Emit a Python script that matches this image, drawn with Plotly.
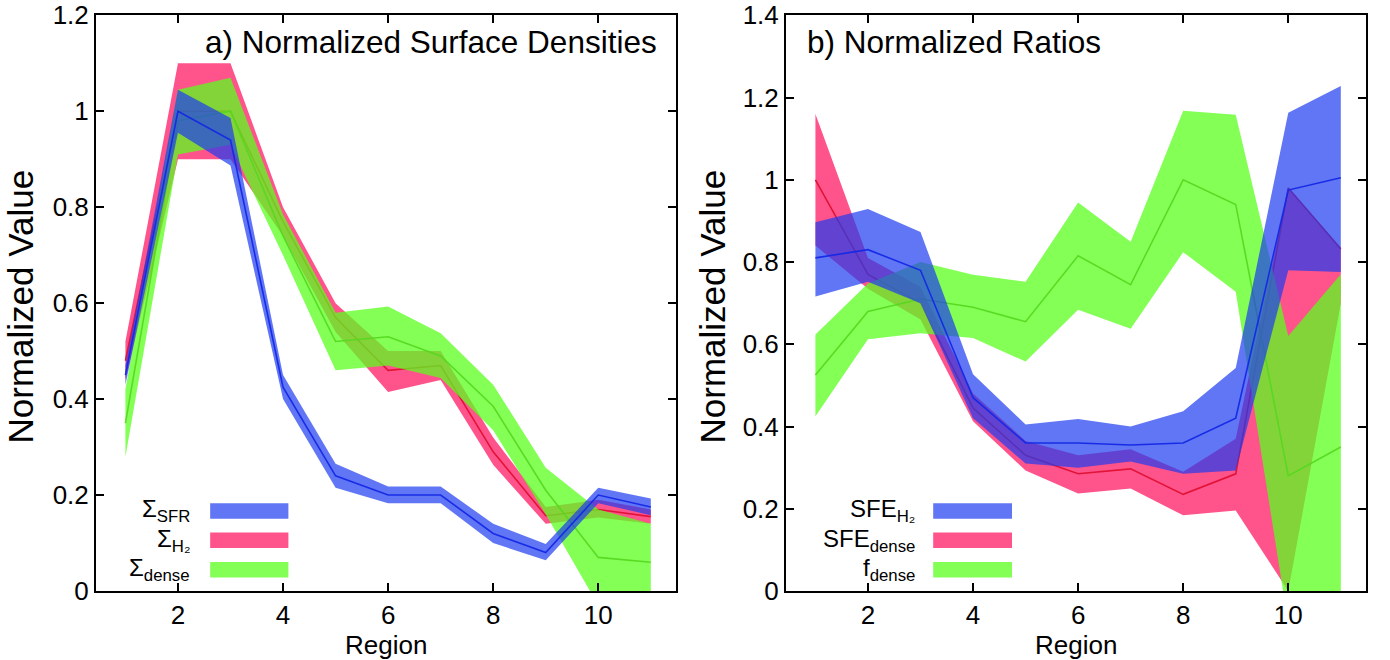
import plotly.graph_objects as go

# ---------------- data ----------------
regions = [1, 2, 3, 4, 5, 6, 7, 8, 9, 10, 11]

# panel a) normalized surface densities
sfr_c = [0.45, 1.00, 0.94, 0.425, 0.24, 0.20, 0.20, 0.12, 0.08, 0.20, 0.175]
sfr_lo = [0.43, 0.955, 0.887, 0.40, 0.215, 0.183, 0.183, 0.10, 0.064, 0.183, 0.158]
sfr_hi = [0.47, 1.045, 0.986, 0.45, 0.265, 0.218, 0.218, 0.14, 0.098, 0.215, 0.193]

h2_c = [0.48, 1.00, 1.00, 0.77, 0.57, 0.46, 0.47, 0.29, 0.157, 0.17, 0.155]
h2_lo = [0.44, 0.90, 0.90, 0.74, 0.54, 0.415, 0.44, 0.263, 0.14, 0.153, 0.14]
h2_hi = [0.52, 1.10, 1.10, 0.80, 0.60, 0.50, 0.50, 0.32, 0.175, 0.19, 0.17]

dense_c = [0.35, 0.98, 1.00, 0.74, 0.52, 0.53, 0.49, 0.385, 0.21, 0.07, 0.06]
dense_lo = [0.28, 0.91, 0.93, 0.70, 0.46, 0.47, 0.444, 0.335, 0.16, -0.03, -0.05]
dense_hi = [0.42, 1.045, 1.07, 0.785, 0.58, 0.593, 0.537, 0.43, 0.257, 0.17, 0.14]

# panel b) normalized ratios
sfeh2_c = [0.81, 0.83, 0.78, 0.47, 0.36, 0.36, 0.355, 0.36, 0.42, 0.975, 1.005]
sfeh2_lo = [0.716, 0.752, 0.70, 0.42, 0.31, 0.30, 0.315, 0.285, 0.293, 0.78, 0.776]
sfeh2_hi = [0.897, 0.929, 0.873, 0.527, 0.405, 0.418, 0.40, 0.437, 0.542, 1.163, 1.228]

sfed_c = [1.0, 0.77, 0.70, 0.445, 0.33, 0.285, 0.297, 0.235, 0.285, 0.98, 0.832]
sfed_lo = [0.84, 0.735, 0.66, 0.413, 0.293, 0.237, 0.249, 0.184, 0.196, 0.0, 0.70]
sfed_hi = [1.16, 0.81, 0.74, 0.48, 0.365, 0.33, 0.345, 0.29, 0.37, 0.98, 0.832]

fd_c = [0.525, 0.68, 0.71, 0.69, 0.655, 0.815, 0.745, 1.0, 0.94, 0.28, 0.35]
fd_lo = [0.425, 0.612, 0.627, 0.615, 0.558, 0.684, 0.638, 0.824, 0.728, -0.08, -0.08]
fd_hi = [0.624, 0.748, 0.80, 0.769, 0.752, 0.945, 0.849, 1.168, 1.158, 0.62, 0.77]

xticks = [2, 4, 6, 8, 10]
yticks_a = [0, 0.2, 0.4, 0.6, 0.8, 1.0, 1.2]
ylabels_a = ["0", "0.2", "0.4", "0.6", "0.8", "1", "1.2"]
yticks_b = [0, 0.2, 0.4, 0.6, 0.8, 1.0, 1.2, 1.4]
ylabels_b = ["0", "0.2", "0.4", "0.6", "0.8", "1", "1.2", "1.4"]

legend_a = ["Σ<sub>SFR</sub>", "Σ<sub>H₂</sub>", "Σ<sub>dense</sub>"]
legend_b = ["SFE<sub>H₂</sub>", "SFE<sub>dense</sub>", "f<sub>dense</sub>"]

# ---------------- style ----------------
BLUE_F = "rgba(30,60,240,0.70)"
BLUE_L = "rgba(20,40,230,0.95)"
PINK_F = "rgba(255,40,110,0.80)"
PINK_L = "rgba(225,20,55,1)"
GREEN_F = "rgba(90,255,30,0.75)"
GREEN_L = "rgba(85,215,30,0.9)"
FONT = "Liberation Sans, Arial, Helvetica, sans-serif"

W, H = 1390, 660
L_A, R_A = 96, 675.5
L_B, R_B = 786, 1365.5
TOP, BOT = 12, 591
PH = BOT - TOP


def py2paper(py):
    return (BOT - py) / PH


fig = go.Figure()


def band(xa, ya, lo, hi, c, fill, line):
    fig.add_trace(go.Scatter(
        x=regions + regions[::-1], y=hi + lo[::-1],
        xaxis=xa, yaxis=ya, mode="lines", fill="toself",
        fillcolor=fill, line=dict(width=0), hoverinfo="skip",
        showlegend=False))
    fig.add_trace(go.Scatter(
        x=regions, y=c, xaxis=xa, yaxis=ya, mode="lines",
        line=dict(color=line, width=1.6), showlegend=False))


# draw order: pink, green, blue
band("x", "y", h2_lo, h2_hi, h2_c, PINK_F, PINK_L)
band("x", "y", dense_lo, dense_hi, dense_c, GREEN_F, GREEN_L)
band("x", "y", sfr_lo, sfr_hi, sfr_c, BLUE_F, BLUE_L)

band("x2", "y2", sfed_lo, sfed_hi, sfed_c, PINK_F, PINK_L)
band("x2", "y2", fd_lo, fd_hi, fd_c, GREEN_F, GREEN_L)
band("x2", "y2", sfeh2_lo, sfeh2_hi, sfeh2_c, BLUE_F, BLUE_L)

axis_common = dict(showline=True, linecolor="black", linewidth=2,
                   mirror="ticks", ticks="inside", ticklen=8, tickwidth=1.5,
                   tickcolor="black", showgrid=False, zeroline=False,
                   ticklabeloverflow="allow",
                   tickfont=dict(family=FONT, size=26, color="black"))

fig.update_layout(
    width=W, height=H, plot_bgcolor="white", paper_bgcolor="white",
    margin=dict(l=0, r=0, t=TOP, b=H - BOT),
    xaxis=dict(domain=[L_A / W, R_A / W], range=[0.44, 11.47],
               tickvals=xticks, anchor="y", **axis_common),
    yaxis=dict(domain=[0, 1], range=[0, 1.2006], tickvals=yticks_a,
               ticktext=ylabels_a, anchor="x", **axis_common),
    xaxis2=dict(domain=[L_B / W, R_B / W], range=[0.44, 11.47],
                tickvals=xticks, anchor="y2", **axis_common),
    yaxis2=dict(domain=[0, 1], range=[0, 1.4007], tickvals=yticks_b,
                ticktext=ylabels_b, anchor="x2", **axis_common),
)

ann = []
ann.append(dict(text="a) Normalized Surface Densities", xref="x domain", yref="y domain",
                x=0.972, y=0.953, xanchor="right", yanchor="middle", showarrow=False,
                font=dict(family=FONT, size=31.5, color="black")))
ann.append(dict(text="b) Normalized Ratios", xref="x2 domain", yref="y2 domain",
                x=0.032, y=0.953, xanchor="left", yanchor="middle", showarrow=False,
                font=dict(family=FONT, size=31.5, color="black")))
for cx in [(L_A + R_A) / 2 / W, (L_B + R_B) / 2 / W]:
    ann.append(dict(text="Region", xref="paper", yref="paper", x=cx, y=py2paper(645),
                    xanchor="center", yanchor="middle", showarrow=False,
                    font=dict(family=FONT, size=26, color="black")))
for cx in [20 / W, 712 / W]:
    ann.append(dict(text="Normalized Value", xref="paper", yref="paper", x=cx,
                    y=py2paper(305), xanchor="center", yanchor="middle", textangle=-90,
                    showarrow=False, font=dict(family=FONT, size=35, color="black")))

shapes = []
rows = [0.139, 0.088, 0.037]
fills = [BLUE_F, PINK_F, GREEN_F]
for (xr, yr, labels, lx, s0, s1) in [("x domain", "y domain", legend_a, 0.166, 0.197, 0.332),
                                     ("x2 domain", "y2 domain", legend_b, 0.226, 0.254, 0.390)]:
    for lab, ry, fc in zip(labels, rows, fills):
        ann.append(dict(text=lab, xref=xr, yref=yr, x=lx, y=ry, xanchor="right",
                        yanchor="middle", showarrow=False,
                        font=dict(family=FONT, size=24, color="black")))
        shapes.append(dict(type="rect", xref=xr, yref=yr, x0=s0, x1=s1,
                           y0=ry - 0.0135, y1=ry + 0.0135, fillcolor=fc,
                           line=dict(width=0)))

fig.update_layout(annotations=ann, shapes=shapes)
fig.write_html("out.html")
